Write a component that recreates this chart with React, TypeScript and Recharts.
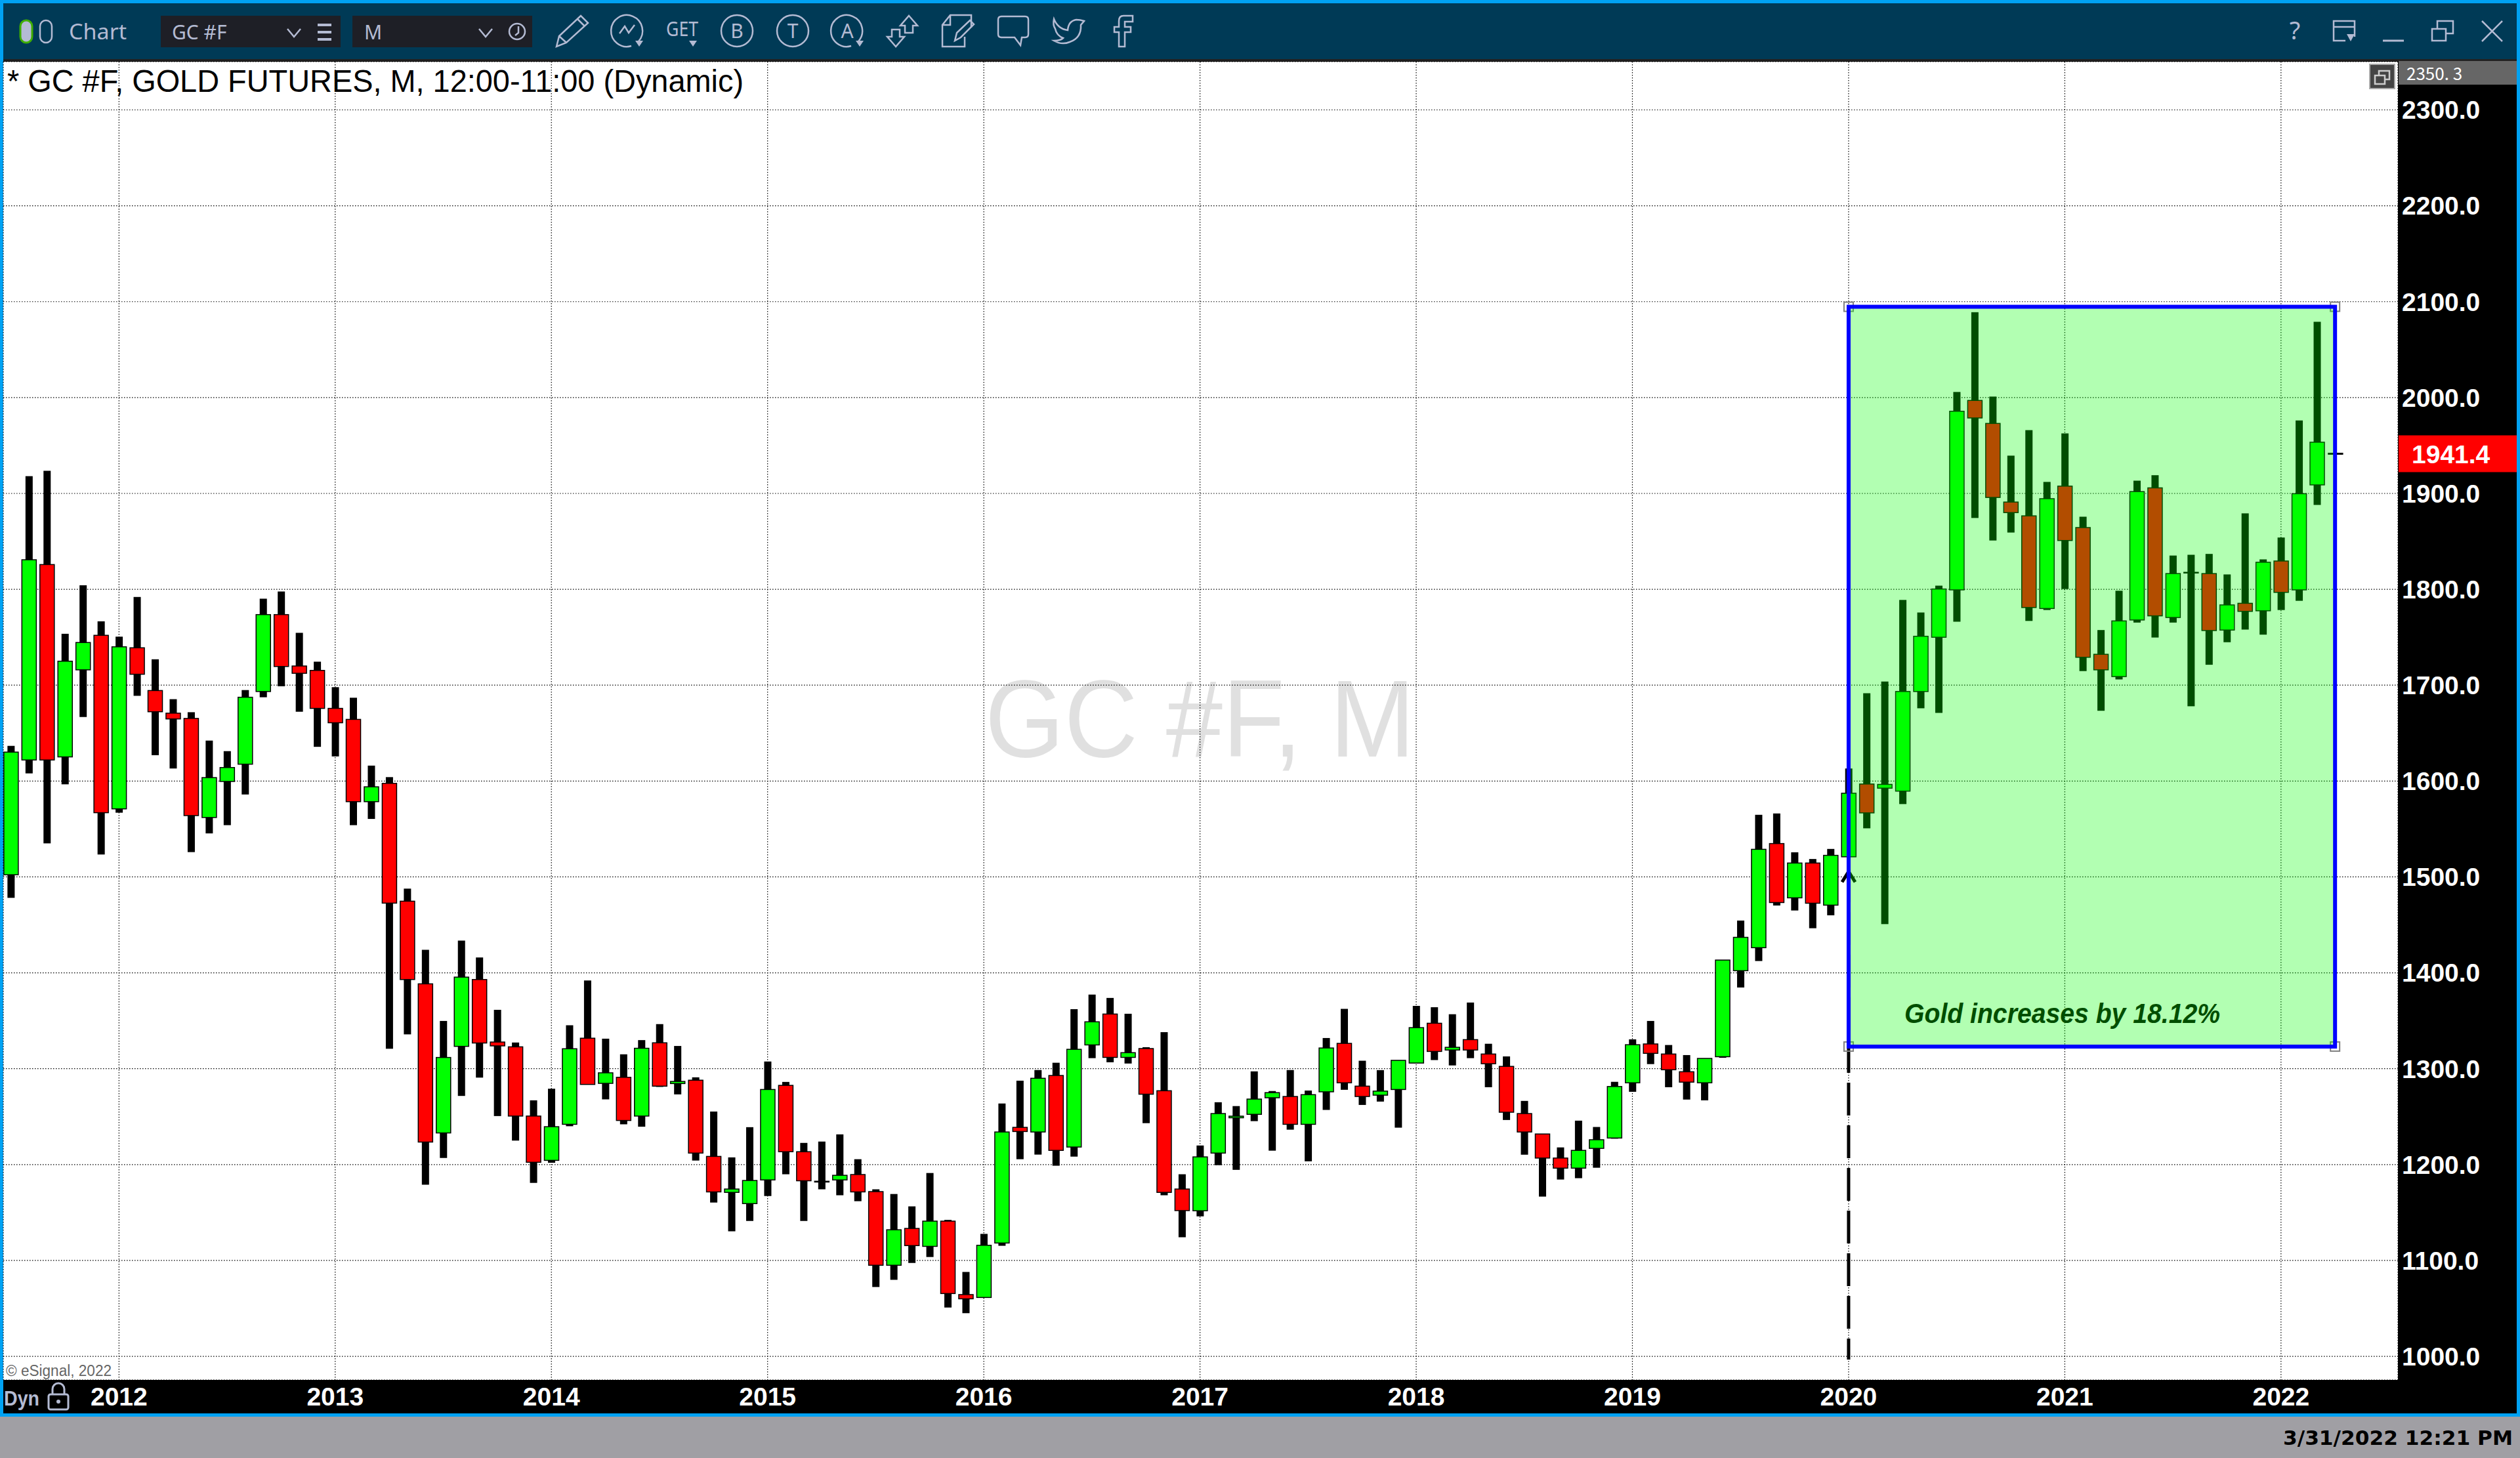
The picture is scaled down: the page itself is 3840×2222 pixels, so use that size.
import React from 'react'
import { ComposedChart, Bar, XAxis, YAxis, CartesianGrid, ReferenceArea, ReferenceLine, ReferenceDot } from 'recharts'

// Monthly gold futures, Jul 2011 to Mar 2022
const opens = [
  1502.3, 1622, 1825.8, 1625.2, 1716, 1752, 1571, 1739, 1694.4, 1670.8, 1665.3, 1562, 1599.6, 1617.6, 1693.4, 1773.6, 1720, 1715.4,
  1675.8, 1664.3, 1578.5, 1597.6, 1474.7, 1388.5, 1233, 1323.3, 1393, 1327.8, 1322.8, 1250.6, 1204.4, 1242, 1331.8, 1284.7, 1291, 1250.6,
  1327, 1284.5, 1288, 1208.5, 1171, 1159.3, 1184, 1282.6, 1213.4, 1181.8, 1184, 1189.6, 1171.8, 1095, 1133.4, 1114.7, 1141, 1064.4,
  1061.4, 1118.2, 1238.8, 1234, 1292.9, 1218.3, 1324.8, 1357, 1311.8, 1321, 1277, 1174.5, 1151.8, 1212, 1248.8, 1252.4, 1269.7, 1271,
  1242, 1275.9, 1326.4, 1281.8, 1272.4, 1278.3, 1305.9, 1347.4, 1319.5, 1330.3, 1315.3, 1302.4, 1253.2, 1231.9, 1206.8, 1196.3, 1216.9, 1227.7,
  1285.3, 1325.8, 1315.3, 1296.8, 1285.3, 1312.5, 1402.2, 1426.2, 1534.8, 1478.2, 1514.5, 1470.6, 1521, 1596.9, 1592.6, 1589.5, 1693.4, 1750,
  1799.4, 1997, 1973, 1891, 1876.6, 1780, 1907.6, 1864.4, 1732.2, 1709, 1768, 1905.8, 1770.6, 1817.7, 1816.4, 1757.5, 1785.4, 1777.6,
  1829.5, 1799.4, 1908.9,
]
const closes = [
  1630.2, 1830.8, 1622, 1725, 1744.5, 1567, 1740, 1711.4, 1672.3, 1664.8, 1564, 1603.6, 1614.1, 1687.4, 1773.6, 1719.5, 1712.4, 1675.8,
  1660.8, 1578.5, 1594, 1472.7, 1393, 1223.5, 1311.7, 1395.5, 1326.8, 1323.8, 1250.6, 1202.4, 1239.5, 1320.8, 1283.6, 1295.7, 1246, 1321.3,
  1281.8, 1286.7, 1212, 1171.5, 1174.5, 1183.4, 1278.3, 1213.4, 1183.1, 1182.6, 1188.8, 1171.5, 1095, 1132, 1115.5, 1141, 1065.5, 1060,
  1115.8, 1234, 1234.5, 1290, 1214.8, 1320.2, 1348.9, 1311.8, 1316.7, 1273.4, 1171, 1152, 1208, 1253.2, 1250.5, 1268.3, 1275, 1242,
  1272.9, 1321.6, 1285.3, 1271, 1276.6, 1308.7, 1342.8, 1318, 1322.3, 1319.5, 1305.2, 1254.6, 1234, 1206.8, 1196.3, 1214.8, 1225.9, 1281.4,
  1325, 1316, 1298.9, 1286, 1310.7, 1413.3, 1437, 1528.8, 1473.3, 1514.5, 1472.6, 1522.5, 1587.3, 1566.8, 1596.5, 1693.4, 1751, 1800.3,
  1985.7, 1978.7, 1895.8, 1880, 1781, 1894.5, 1850.9, 1729.1, 1716, 1767, 1901.9, 1772.3, 1816.4, 1817, 1757, 1783.7, 1777, 1828.2,
  1796.8, 1899.7, 1953.4,
]
const highs = [
  1636.7, 1918, 1923.6, 1753.6, 1804.2, 1766.6, 1750.6, 1792, 1727, 1685.4, 1671.8, 1642.2, 1631.2, 1694.9, 1790.2, 1797.7, 1754.6, 1724.5,
  1697.9, 1686.9, 1616.1, 1604.1, 1487.8, 1424, 1349.8, 1433.6, 1416, 1361.4, 1327.3, 1267, 1279.1, 1345.3, 1392, 1331.3, 1315, 1329.8,
  1346.5, 1323.7, 1291, 1255.3, 1207.5, 1239, 1307.5, 1286.2, 1222.6, 1224, 1231.5, 1205.6, 1174.2, 1169.3, 1156.4, 1191.2, 1142.3, 1088,
  1127.7, 1263.7, 1287.5, 1298.6, 1306.2, 1362.1, 1377.3, 1373.8, 1357.3, 1322.4, 1338.1, 1189.9, 1219.9, 1265, 1261, 1297.2, 1276.7, 1298.6,
  1277.2, 1332, 1362.4, 1308.3, 1298.5, 1308.7, 1365.5, 1364.1, 1356.8, 1369, 1326, 1312.8, 1266.4, 1231.9, 1217.9, 1245.8, 1239.2, 1286.3,
  1330.6, 1349.8, 1324.7, 1314.2, 1310.7, 1413.3, 1454.5, 1564.8, 1566.2, 1525.7, 1518.7, 1529.2, 1613.1, 1691.6, 1703.8, 1788.9, 1775.8, 1803.8,
  2005.8, 2089, 2001, 1939.4, 1966, 1912, 1962.6, 1875.7, 1757.5, 1798.5, 1913.3, 1919, 1835.2, 1836, 1836.9, 1815.5, 1879.2, 1831.2,
  1854, 1976.1, 2079,
]
const lows = [
  1478.2, 1608, 1535, 1596.6, 1666.8, 1523.4, 1567, 1688.9, 1627, 1613.1, 1525.9, 1545.4, 1554, 1586, 1687.4, 1698.9, 1672.3, 1635.7,
  1625.7, 1554, 1560.5, 1320.8, 1335.8, 1179, 1206.9, 1271.6, 1290.7, 1250.6, 1225, 1180.9, 1201.9, 1240, 1283.6, 1268, 1242, 1239.5,
  1281, 1273.2, 1204.2, 1160.4, 1130.4, 1141.2, 1167.2, 1189.9, 1141.2, 1174.2, 1168, 1161.8, 1072.3, 1079.8, 1097.4, 1103.6, 1050.9, 1045,
  1061.4, 1115.3, 1205.6, 1210.4, 1198.8, 1208.3, 1311, 1306.7, 1305.4, 1243.2, 1168, 1124.2, 1146, 1199.4, 1194.5, 1245.3, 1214.5, 1236.4,
  1203.4, 1257, 1278, 1262.2, 1265.7, 1238.5, 1305.9, 1309, 1303.4, 1311, 1280.7, 1246.5, 1210.3, 1166.6, 1184.4, 1185.8, 1196.7, 1227,
  1275.9, 1304.8, 1280.7, 1267.8, 1267, 1311.4, 1384.7, 1412.3, 1470.2, 1465, 1446.5, 1460, 1521, 1550.7, 1450.8, 1576, 1675.9, 1671.1,
  1766.2, 1874.4, 1850.9, 1859.2, 1767, 1778.4, 1800.3, 1714.7, 1673.3, 1706, 1765.3, 1749.7, 1765.3, 1678, 1721.3, 1744.8, 1758, 1752.7,
  1778.4, 1788, 1888,
]

const years = ['2012', '2013', '2014', '2015', '2016', '2017', '2018', '2019', '2020', '2021', '2022']
const yearTicks = [6, 18, 30, 42, 54, 66, 78, 90, 102, 114, 126]
const priceTicks = [1000, 1100, 1200, 1300, 1400, 1500, 1600, 1700, 1800, 1900, 2000, 2100, 2200, 2300]

const lastPrice = 1941.4
const topPrice = 2350.3
const bottomPrice = 975.4
const boxStart = 102
const boxEnd = 129
const boxHigh = 2094.7
const boxLow = 1323.1

const candles = opens.map((open, i) => ({
  i,
  open,
  close: closes[i],
  high: highs[i],
  low: lows[i],
  range: [lows[i], highs[i]],
}))

const ARIAL = '"Liberation Sans", Arial, sans-serif'
const ICON = '#b4bbd3'

const CandleShape = (props: any) => {
  const { x, y, width, height, payload } = props
  const perUnit = height / (payload.high - payload.low)
  const cx = x + width / 2
  const bodyTop = y + (payload.high - Math.max(payload.open, payload.close)) * perUnit
  const bodyHeight = Math.abs(payload.open - payload.close) * perUnit
  return (
    <g>
      <rect x={cx - 5.5} y={y} width={11} height={height} fill="#000" />
      <rect
        x={cx - 11}
        y={bodyTop}
        width={22}
        height={bodyHeight}
        fill={payload.close >= payload.open ? '#00ff00' : '#ff0000'}
        stroke="#000"
        strokeWidth={1.5}
      />
    </g>
  )
}

const Handle = (props: any) => (
  <rect x={props.cx - 7} y={props.cy - 7} width={14} height={14} fill="none" stroke="#808080" strokeWidth={2} />
)

const Chevron = (props: any) => (
  <path d={`M${props.cx - 10} ${props.cy + 16} L${props.cx} ${props.cy} L${props.cx + 10} ${props.cy + 16}`} fill="none" stroke="#000" strokeWidth={5} />
)

const BoxNote = (props: any) => (
  <text x={props.cx} y={props.cy} fontFamily={ARIAL} fontWeight="bold" fontStyle="italic" fontSize={42} fill="#000" textLength={481} lengthAdjust="spacingAndGlyphs">
    Gold increases by 18.12%
  </text>
)

const PriceFlag = (props: any) => (
  <g>
    <rect x={3655} y={props.cy - 28} width={180} height={56} fill="#ff0000" />
    <text x={3675} y={props.cy + 15} fontFamily={ARIAL} fontWeight="bold" fontSize={39} fill="#fff">{lastPrice.toFixed(1)}</text>
  </g>
)

// Window chrome around the chart
function Toolbar() {
  const line = { fill: 'none', stroke: ICON, strokeWidth: 2.5 }
  return (
    <svg width={3840} height={93} style={{ position: 'absolute', left: 0, top: 0 }}>
      <rect x={0} y={0} width={3840} height={93} fill="#00a2f3" />
      <rect x={5} y={5} width={3830} height={85} fill="#003a56" />
      <rect x={5} y={90} width={3830} height={3} fill="#222" />

      <rect x={31} y={31} width={18} height={34} rx={9} fill={ICON} stroke="#3fae00" strokeWidth={3} />
      <rect x={61} y={31} width={18} height={34} rx={9} {...line} />
      <text x={105} y={60} fontFamily="Noto Sans" fontSize={33} fill={ICON} textLength={88} lengthAdjust="spacingAndGlyphs">Chart</text>

      <rect x={245} y={24} width={274} height={48} fill="#1e1f26" />
      <text x={262} y={60} fontFamily="Noto Sans" fontSize={30} fill={ICON}>GC #F</text>
      <path d="M438 44 L448 56 L458 44" {...line} />
      <path d="M484 38 H505 M484 49 H505 M484 60 H505" fill="none" stroke={ICON} strokeWidth={4} />
      <rect x={537} y={24} width={274} height={48} fill="#1e1f26" />
      <text x={555} y={60} fontFamily="Noto Sans" fontSize={30} fill={ICON}>M</text>
      <path d="M730 44 L740 56 L750 44" {...line} />
      <circle cx={788} cy={48} r={12} {...line} />
      <path d="M790 40 V50 L785 54" {...line} />

      <path d="M848 71 L852 55 L885 24 L896 35 L863 65 Z M852 55 L863 65 M880 29 L891 40" {...line} />
      <path d="M973 63 A24 24 0 1 0 962 70" {...line} />
      <path d="M944 51 L952 40 L958 50 L967 38" {...line} />
      <path d="M968 62 H980 L974 71 Z" fill={ICON} />
      <text x={1015} y={55} fontFamily="Noto Sans" fontSize={30} fill={ICON} textLength={49} lengthAdjust="spacingAndGlyphs">GET</text>
      <path d="M1050 62 H1062 L1056 71 Z" fill={ICON} />
      <circle cx={1123} cy={47} r={24} {...line} />
      <text x={1123} y={58} textAnchor="middle" fontFamily="Noto Sans" fontSize={30} fill={ICON}>B</text>
      <circle cx={1208} cy={47} r={24} {...line} />
      <text x={1208} y={58} textAnchor="middle" fontFamily="Noto Sans" fontSize={30} fill={ICON}>T</text>
      <path d="M1308 63 A24 24 0 1 0 1297 70" {...line} />
      <text x={1291} y={58} textAnchor="middle" fontFamily="Noto Sans" fontSize={30} fill={ICON}>A</text>
      <path d="M1304 62 H1316 L1310 71 Z" fill={ICON} />
      <path d="M1385 24 L1398 39 H1391 V50 H1379 V39 H1372 Z" {...line} />
      <path d="M1365 71 L1352 56 H1359 V45 H1371 V56 H1378 Z" {...line} />
      <path d="M1480 42 V23 H1448 L1436 38 V71 H1470 V56 M1448 23 V38 H1436" {...line} />
      <path d="M1455 62 L1458 50 L1478 31 L1484 37 L1464 57 Z" {...line} />
      <path d="M1521 30 Q1521 25 1526 25 H1562 Q1567 25 1567 30 V52 Q1567 57 1562 57 H1557 L1555 69 L1546 57 H1526 Q1521 57 1521 52 Z" {...line} />
      <path d="M1606 29 Q1612 44 1627 46 Q1628 32 1640 30 Q1646 30 1652 32 L1647 38 Q1648 58 1630 64 Q1618 69 1606 62 Q1616 62 1620 58 Q1610 54 1608 44 Q1604 38 1606 29 Z" {...line} />
      <path d="M1726 24 H1712 Q1705 24 1705 32 V41 H1698 V49 H1705 V71 H1714 V49 H1723 V41 H1714 V33 H1726 Z" {...line} />

      <text x={3497} y={60} textAnchor="middle" fontFamily="Noto Sans" fontSize={38} fill={ICON}>?</text>
      <path d="M3588 56 V32 H3556 V62 H3574 M3556 41 H3588" {...line} />
      <path d="M3576 52 H3588 L3582 63 Z" fill={ICON} />
      <path d="M3631 62 H3663" fill="none" stroke={ICON} strokeWidth={3} />
      <path d="M3706 44 H3727 V62 H3706 Z M3714 44 V32 H3738 V51 H3727" {...line} />
      <path d="M3782 32 L3813 63 M3813 32 L3782 63" {...line} />
    </svg>
  )
}

function FrameBackground() {
  return (
    <svg width={3840} height={2222} style={{ position: 'absolute', left: 0, top: 0 }}>
      <rect x={0} y={0} width={3840} height={2159} fill="#00a2f3" />
      <rect x={5} y={93} width={3830} height={2061} fill="#000" />
      <rect x={5} y={94} width={3649} height={2009} fill="#fff" />
      <rect x={0} y={2159} width={3840} height={63} fill="#a09fa4" />
      <text x={1501} y={1153} fontFamily={ARIAL} fontSize={167} fill="#e0e0e0" textLength={655} lengthAdjust="spacingAndGlyphs">GC #F, M</text>
    </svg>
  )
}

function FrameOverlay() {
  return (
    <svg width={3840} height={2222} style={{ position: 'absolute', left: 0, top: 0 }}>
      <text x={11} y={140} fontFamily={ARIAL} fontSize={48} fill="#000" textLength={1122} lengthAdjust="spacingAndGlyphs">* GC #F, GOLD FUTURES, M, 12:00-11:00 (Dynamic)</text>
      <text x={9} y={2097} fontFamily={ARIAL} fontSize={23} fill="#666" textLength={161} lengthAdjust="spacingAndGlyphs">© eSignal, 2022</text>

      <rect x={3655} y={93} width={180} height={36} fill="#666" />
      <text x={3667} y={122} fontFamily="Noto Sans CJK JP" fontSize={26} fill="#fff">2350. 3</text>
      <rect x={3611} y={98} width={38} height={37} fill="#444" stroke="#aaa" strokeWidth={2} />
      <path d="M3619 115 H3634 V128 H3619 Z M3625 115 V108 H3641 V121 H3634" fill="none" stroke="#ccc" strokeWidth={2.5} />

      <text x={6} y={2142} fontFamily={ARIAL} fontWeight="bold" fontSize={32} fill={ICON} textLength={54} lengthAdjust="spacingAndGlyphs">Dyn</text>
      <rect x={74} y={2125} width={30} height={23} rx={3} fill="none" stroke={ICON} strokeWidth={3} />
      <path d="M80 2125 V2117 A9 9 0 0 1 98 2117 V2125" fill="none" stroke={ICON} strokeWidth={3} />
      <circle cx={89} cy={2136} r={3} fill={ICON} />

      <text x={3479} y={2202} fontFamily="DejaVu Sans" fontWeight="bold" fontSize={31} fill="#000" textLength={350} lengthAdjust="spacingAndGlyphs">3/31/2022 12:21 PM</text>
    </svg>
  )
}

export default function App() {
  const axisTick = { fill: '#fff', fontFamily: ARIAL, fontWeight: 'bold', fontSize: 39 }
  return (
    <div style={{ position: 'absolute', left: 0, top: 0, width: 3840, height: 2222, overflow: 'hidden' }}>
      <FrameBackground />
      <div style={{ position: 'absolute', left: 0, top: 0 }}>
        <ComposedChart width={3840} height={2222} data={candles} margin={{ top: 94, left: 5, right: 0, bottom: 68 }}>
          <CartesianGrid stroke="#000" strokeWidth={1.2} strokeDasharray="1.5 2.5" />
          <XAxis
            dataKey="i"
            type="number"
            domain={[-0.4225, 132.49]}
            ticks={yearTicks}
            interval={0}
            allowDataOverflow
            height={51}
            tickLine={false}
            axisLine={false}
            tick={axisTick}
            tickMargin={5}
            tickFormatter={(v: number) => years[yearTicks.indexOf(v)]}
          />
          <YAxis
            orientation="right"
            type="number"
            domain={[bottomPrice, topPrice]}
            ticks={priceTicks}
            interval={0}
            allowDataOverflow
            width={186}
            tickLine={false}
            axisLine={false}
            tick={axisTick}
            tickMargin={0}
            tickFormatter={(v: number) => v.toFixed(1)}
          />
          <Bar dataKey="range" barSize={22} shape={CandleShape} isAnimationActive={false} />
          <ReferenceLine
            segment={[{ x: boxStart, y: 1507.8 }, { x: boxStart, y: 996.6 }]}
            stroke="#000"
            strokeWidth={5}
            strokeDasharray="50 15"
            ifOverflow="visible"
            zIndex={1000}
          />
          <ReferenceDot x={boxStart} y={1505.6} shape={Chevron} ifOverflow="visible" zIndex={1000} />
          <ReferenceDot x={105.1} y={1347.7} shape={BoxNote} ifOverflow="visible" zIndex={1000} />
          <ReferenceLine
            segment={[{ x: 128.6, y: lastPrice }, { x: 129.45, y: lastPrice }]}
            stroke="#000"
            strokeWidth={3}
            ifOverflow="visible"
            zIndex={1000}
          />
          <ReferenceDot x={boxStart} y={boxHigh} shape={Handle} ifOverflow="visible" zIndex={1000} />
          <ReferenceDot x={boxEnd} y={boxHigh} shape={Handle} ifOverflow="visible" zIndex={1000} />
          <ReferenceDot x={boxStart} y={boxLow} shape={Handle} ifOverflow="visible" zIndex={1000} />
          <ReferenceDot x={boxEnd} y={boxLow} shape={Handle} ifOverflow="visible" zIndex={1000} />
          <ReferenceArea
            x1={boxStart}
            x2={boxEnd}
            y1={boxLow}
            y2={boxHigh}
            fill="#00ff00"
            fillOpacity={0.3}
            stroke="#0000ff"
            strokeWidth={6}
            ifOverflow="visible"
            zIndex={2000}
          />
          <ReferenceDot x={132.49} y={lastPrice} shape={PriceFlag} ifOverflow="visible" zIndex={2100} />
        </ComposedChart>
      </div>
      <FrameOverlay />
      <Toolbar />
    </div>
  )
}
